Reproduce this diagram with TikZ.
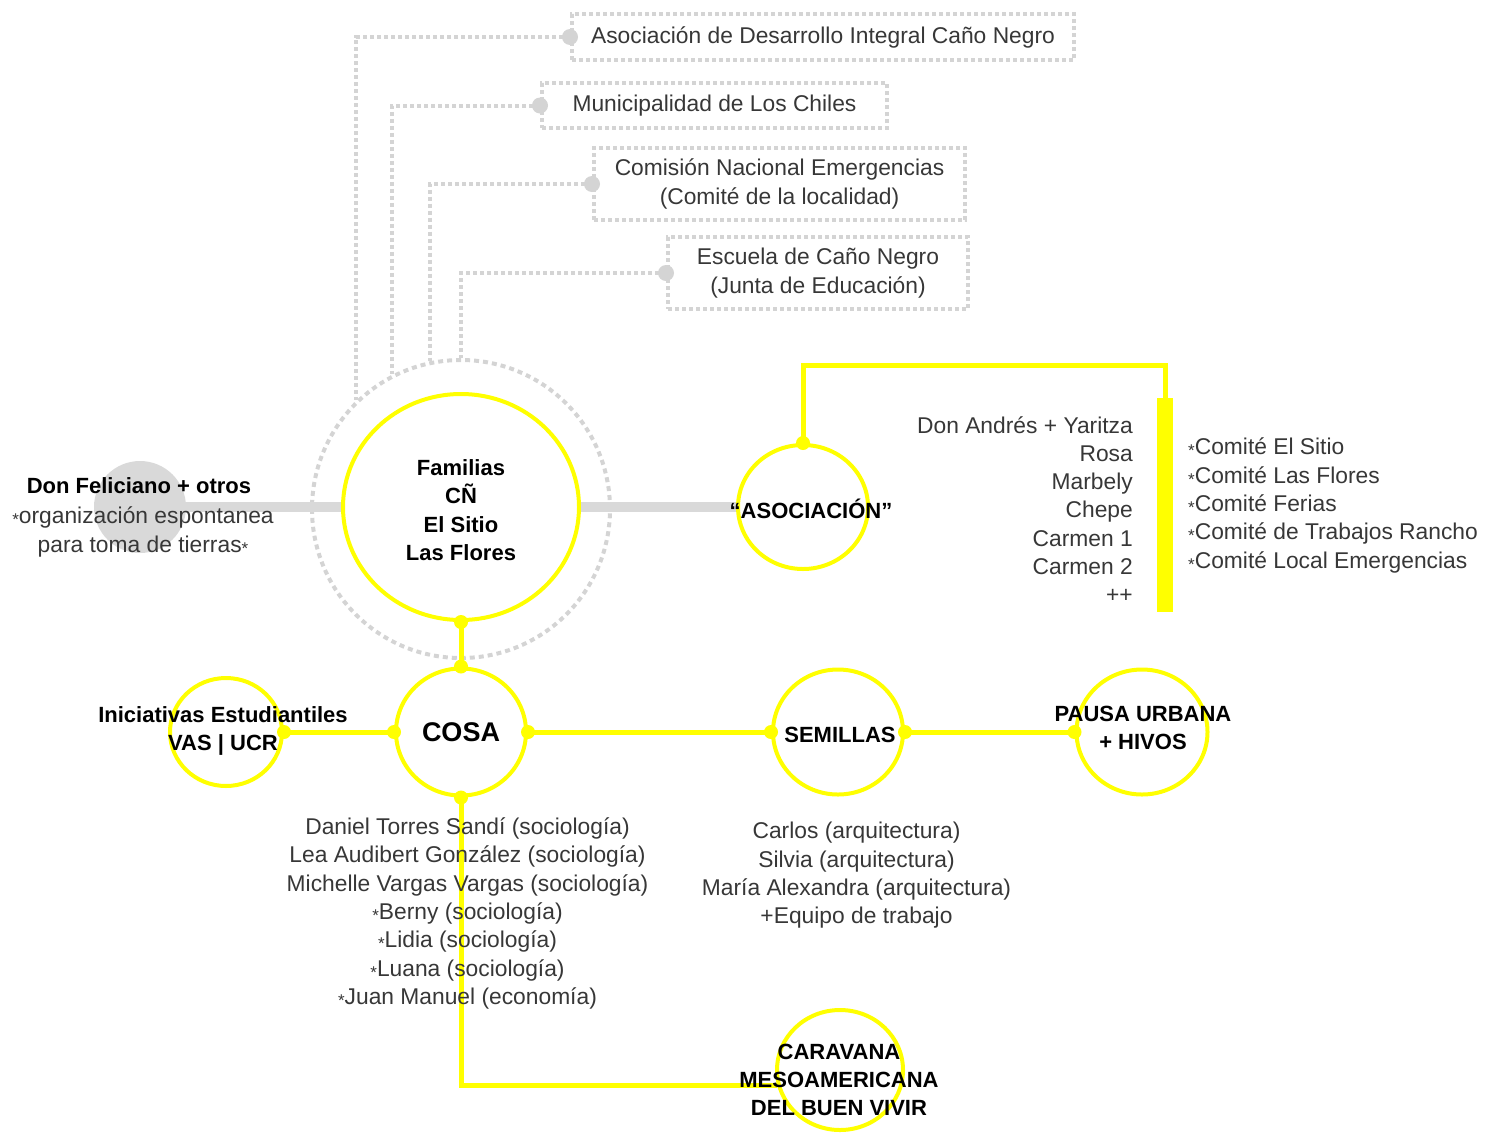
\documentclass[tikz,border=0pt]{standalone}
\usepackage{fontspec}
\setmainfont{Liberation Sans}
\usetikzlibrary{shapes.geometric,calc}
\definecolor{ylw}{RGB}{255,255,0}
\definecolor{gline}{RGB}{217,217,217}
\definecolor{gdot}{RGB}{212,212,212}
\definecolor{txt}{RGB}{55,55,55}
\newcommand\stx{\raisebox{-2pt}{\fontsize{17}{17}\selectfont *}}
\begin{document}
\begin{tikzpicture}[x=1pt,y=-1pt,
  lt/.style={font=\fontsize{22.8}{28.3}\selectfont, text=txt, align=center, inner sep=0pt},
  bd/.style={font=\fontsize{22}{28.3}\selectfont\bfseries, text=black, align=center, inner sep=0pt},
  orgbox/.style={draw=gdot, line width=4pt, dash pattern=on 4pt off 3pt, inner sep=0pt, lt},
  dotline/.style={draw=gdot, line width=4pt, dash pattern=on 4pt off 3pt},
  ring/.style={draw=ylw, line width=4pt, ellipse, inner sep=0pt},
  ylink/.style={draw=ylw, line width=5pt},
  gbar/.style={draw=gline, line width=10pt},
]
\useasboundingbox (0,0) rectangle (1496,1133);

% outer organisations
\node[orgbox, minimum width=502pt, minimum height=46pt] (b1) at (823,37) {Asociación de Desarrollo Integral Caño Negro};
\node[orgbox, minimum width=345pt, minimum height=45pt] (b2) at (714.5,105.5) {Municipalidad de Los Chiles};
\node[orgbox, minimum width=371pt, minimum height=72pt] (b3) at (779.5,184) {Comisión Nacional Emergencias\\(Comité de la localidad)};
\node[orgbox, minimum width=300pt, minimum height=72pt] (b4) at (818,273) {Escuela de Caño Negro\\(Junta de Educación)};

% dotted ring
\node[circle, draw=gdot, line width=4pt, dash pattern=on 5pt off 4pt, minimum size=298pt, inner sep=0pt] (dring) at (461,509) {};

\draw[dotline] (b1.west) -| (dring.134.7);
\draw[dotline] (b2.west) -| (dring.117.8);
\draw[dotline] (b3.west) -| (dring.102.9);
\draw[dotline] (b4.west) -| (dring.north);
\foreach \b in {b1,b2,b3,b4} \fill[gdot] (\b.west) circle[radius=8pt];

% gray circle
\node[circle, fill=gline, minimum size=92pt, inner sep=0pt] (feli) at (140,507) {};

% yellow ellipses
\node[ring, minimum width=236pt, minimum height=226pt] (fam) at (461,507) {};
\node[ring, minimum width=130pt, minimum height=124pt] (asoc) at (803,507) {};
\node[ring, minimum width=112pt, minimum height=108pt] (inic) at (226,732) {};
\node[ring, minimum width=130pt, minimum height=127pt] (cosa) at (461,732) {};
\node[ring, minimum width=130pt, minimum height=125pt] (sem) at (838,732) {};
\node[ring, minimum width=131pt, minimum height=125pt] (pau) at (1142,732) {};
\node[ring, minimum width=126pt, minimum height=120pt] (car) at (840,1070) {};

% gray links
\draw[gbar] (feli.east) -- (fam.west);
\draw[gbar] (fam.east) -- (asoc.west);

% asociacion bracket and bar
\node[fill=ylw, minimum width=16pt, minimum height=214pt, inner sep=0pt] (bar) at (1165,505) {};
\coordinate (bk) at (1165,365);
\draw[ylink] (asoc.north) |- (bk) -- (bar.north);

% yellow links
\draw[ylink] (fam.south) -- (cosa.north);
\draw[ylink] (inic.east) -- (cosa.west);
\draw[ylink] (cosa.east) -- (sem.west);
\draw[ylink] (sem.east) -- (pau.west);
\draw[ylink] (cosa.south) |- (car.194);
\foreach \p in {fam.south,cosa.north,cosa.south,cosa.west,cosa.east,inic.east,sem.west,sem.east,pau.west,asoc.north}
  \fill[ylw] (\p) circle[radius=7pt];

% texts
\node[bd] (famt) at (461,510) {Familias\\CÑ\\El Sitio\\Las Flores};
\node[bd] (asoct) at (811,509) {“ASOCIACIÓN”};
\node[bd] (felit) at (139,486) {Don Feliciano + otros};
\node[lt] (felis) at (143,532) {\stx organización espontanea\\para toma de tierras\stx};
\node[lt, align=right, anchor=east] (memb) at (1133,509.5) {Don Andrés + Yaritza\\Rosa\\Marbely\\Chepe\\Carmen 1\\Carmen 2\\++};
\node[lt, align=left, anchor=west] (com) at (1188,505.5) {\stx Comité El Sitio\\\stx Comité Las Flores\\\stx Comité Ferias\\\stx Comité de Trabajos Rancho\\\stx Comité Local Emergencias};
\node[bd] (inict) at (223,731) {Iniciativas Estudiantiles\\VAS | UCR};
\node[bd, font=\fontsize{27}{30}\selectfont\bfseries] (cosat) at (cosa) {COSA};
\node[bd] (semt) at (840,735) {SEMILLAS};
\node[bd] (paut) at (1143,728) {PAUSA URBANA\\+ HIVOS};
\node[bd] (cart) at (839,1080) {CARAVANA\\MESOAMERICANA\\DEL BUEN VIVIR};
\node[lt] (cosam) at (467.5,913.5) {Daniel Torres Sandí (sociología)\\Lea Audibert González (sociología)\\Michelle Vargas Vargas (sociología)\\\stx Berny (sociología)\\\stx Lidia (sociología)\\\stx Luana (sociología)\\\stx Juan Manuel (economía)};
\node[lt] (semm) at (856.5,875.5) {Carlos (arquitectura)\\Silvia (arquitectura)\\María Alexandra (arquitectura)\\+Equipo de trabajo};
\end{tikzpicture}
\end{document}
